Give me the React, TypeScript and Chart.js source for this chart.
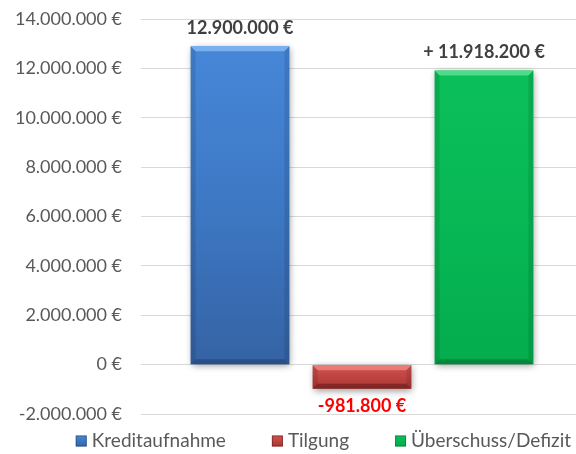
import React, { useEffect, useRef } from 'react';
import { Chart, registerables } from 'chart.js';

Chart.register(...registerables);

const categories = ['Finanzierung'];
const seriesNames = ['Kreditaufnahme', 'Tilgung', 'Überschuss/Defizit'];
const seriesValues = [12900000, -981800, 11918200];
const labelPrefixes = ['', '', '+ '];
const yMin = -2000000;
const yMax = 14000000;
const yStep = 2000000;

const VIEW_W = 576;
const CANVAS_W = 583;

const palettes = [
  { top: '#4787D8', mid: '#3D78C4', bottom: '#3563A4', hi: 'rgba(130,185,245,0.85)', lo: 'rgba(30,60,110,0.5)' },
  { top: '#D1524F', mid: '#BF4542', bottom: '#A63633', hi: 'rgba(240,130,125,0.85)', lo: 'rgba(90,20,20,0.5)' },
  { top: '#0BBF5A', mid: '#07B855', bottom: '#04AC4D', hi: 'rgba(90,225,145,0.85)', lo: 'rgba(0,90,40,0.45)' },
];

function fmt(n: number): string {
  const s = Math.abs(Math.round(n)).toString().replace(/\B(?=(\d{3})+(?!\d))/g, '.');
  return (n < 0 ? '-' : '') + s;
}

const FONT = 'Lato, "Open Sans", sans-serif';

const shadowPlugin = {
  id: 'barShadow',
  beforeDatasetsDraw(chart: any) {
    const ctx = chart.ctx;
    ctx.save();
    ctx.shadowColor = 'rgba(0,0,0,0.4)';
    ctx.shadowBlur = 7;
    ctx.shadowOffsetX = 1;
    ctx.shadowOffsetY = 2;
  },
  afterDatasetsDraw(chart: any) {
    const ctx = chart.ctx;
    ctx.restore();
    chart.data.datasets.forEach((ds: any, di: number) => {
      const meta = chart.getDatasetMeta(di);
      const pal = palettes[di];
      meta.data.forEach((el: any, i: number) => {
        const { x, y, base, width } = el.getProps(['x', 'y', 'base', 'width'], true);
        const left = x - width / 2;
        const right = x + width / 2;
        const top = Math.min(y, base);
        const bottom = Math.max(y, base);
        const b = Math.min(5, (bottom - top) / 3);
        ctx.save();
        ctx.fillStyle = pal.hi;
        ctx.beginPath();
        ctx.moveTo(left, top);
        ctx.lineTo(right, top);
        ctx.lineTo(right - b, top + b);
        ctx.lineTo(left + b, top + b);
        ctx.closePath();
        ctx.fill();
        ctx.fillStyle = pal.lo;
        ctx.beginPath();
        ctx.moveTo(left, bottom);
        ctx.lineTo(right, bottom);
        ctx.lineTo(right - b, bottom - b);
        ctx.lineTo(left + b, bottom - b);
        ctx.closePath();
        ctx.fill();
        ctx.fillStyle = 'rgba(0,0,0,0.1)';
        ctx.beginPath();
        ctx.moveTo(left, top);
        ctx.lineTo(left + b, top + b);
        ctx.lineTo(left + b, bottom - b);
        ctx.lineTo(left, bottom);
        ctx.closePath();
        ctx.fill();
        ctx.beginPath();
        ctx.moveTo(right, top);
        ctx.lineTo(right - b, top + b);
        ctx.lineTo(right - b, bottom - b);
        ctx.lineTo(right, bottom);
        ctx.closePath();
        ctx.fill();
        const v = ds.data[i];
        ctx.font = `bold 18px ${FONT}`;
        ctx.textAlign = 'center';
        if (v >= 0) {
          ctx.fillStyle = '#404040';
          ctx.textBaseline = 'bottom';
          ctx.fillText(`${labelPrefixes[di]}${fmt(v)} €`, x, top - 9);
        } else {
          ctx.fillStyle = '#FF0000';
          ctx.textBaseline = 'top';
          ctx.fillText(`${labelPrefixes[di]}${fmt(v)} €`, x, bottom + 8);
        }
        ctx.restore();
      });
    });
  },
};

const legendPlugin = {
  id: 'customLegend',
  afterDraw(chart: any) {
    const ctx = chart.ctx;
    ctx.save();
    ctx.font = `19px ${FONT}`;
    const box = 11;
    const gap = 5;
    const itemGap = 46;
    const widths = seriesNames.map((n) => box + gap + ctx.measureText(n).width);
    const total = widths.reduce((a, b) => a + b, 0) + itemGap * (seriesNames.length - 1);
    let x = VIEW_W - 5 - total;
    const yc = chart.chartArea.bottom + 27;
    seriesNames.forEach((n, i) => {
      const pal = palettes[i];
      const g = ctx.createLinearGradient(0, yc - box / 2, 0, yc + box / 2);
      g.addColorStop(0, pal.top);
      g.addColorStop(1, pal.bottom);
      ctx.fillStyle = g;
      ctx.fillRect(x, yc - box / 2, box, box);
      ctx.strokeStyle = pal.lo;
      ctx.lineWidth = 1;
      ctx.strokeRect(x + 0.5, yc - box / 2 + 0.5, box - 1, box - 1);
      ctx.fillStyle = '#595959';
      ctx.textAlign = 'left';
      ctx.textBaseline = 'middle';
      ctx.fillText(n, x + box + gap, yc);
      x += widths[i] + itemGap;
    });
    ctx.restore();
  },
};

function makeFill(di: number) {
  return (context: any) => {
    const pal = palettes[di];
    const chart = context.chart;
    const ys = chart.scales && chart.scales.y;
    if (!chart.chartArea || !ys) return pal.mid;
    const v = seriesValues[di];
    const y0 = ys.getPixelForValue(Math.max(v, 0));
    const y1 = ys.getPixelForValue(Math.min(v, 0));
    if (!isFinite(y0) || !isFinite(y1) || y0 === y1) return pal.mid;
    const g = chart.ctx.createLinearGradient(0, y0, 0, y1);
    g.addColorStop(0, pal.top);
    g.addColorStop(0.5, pal.mid);
    g.addColorStop(1, pal.bottom);
    return g;
  };
}

export default function App() {
  const ref = useRef<HTMLCanvasElement>(null);
  useEffect(() => {
    if (!ref.current) return;
    const chart = new Chart(ref.current, {
      type: 'bar',
      data: {
        labels: categories,
        datasets: seriesNames.map((name, di) => ({
          label: name,
          data: [seriesValues[di]],
          backgroundColor: makeFill(di),
          borderWidth: 0,
          categoryPercentage: 0.828,
          barPercentage: 0.81,
        })),
      },
      options: {
        animation: false,
        responsive: true,
        maintainAspectRatio: false,
        layout: { padding: { top: 19, bottom: 40, left: 8, right: 0 } },
        plugins: {
          legend: { display: false },
          tooltip: { enabled: false },
        },
        scales: {
          x: { display: false },
          y: {
            min: yMin,
            max: yMax,
            border: { display: false },
            grid: { color: '#D9D9D9', drawTicks: false, lineWidth: 1 },
            afterFit: (scale: any) => {
              scale.width = 133;
              scale.paddingTop = 11;
              scale.paddingBottom = 11;
            },
            ticks: {
              stepSize: yStep,
              padding: 19,
              color: '#595959',
              font: { family: FONT, size: 18 },
              callback: (v: any) => `${fmt(Number(v))} €`,
            },
          },
        },
      },
      plugins: [shadowPlugin, legendPlugin],
    });
    return () => chart.destroy();
  }, []);
  return (
    <div style={{ position: 'fixed', left: 0, top: 0, width: VIEW_W, height: 454, overflow: 'hidden', background: '#fff' }}>
      <div style={{ position: 'relative', width: CANVAS_W, height: 454 }}>
        <canvas ref={ref} />
      </div>
    </div>
  );
}
